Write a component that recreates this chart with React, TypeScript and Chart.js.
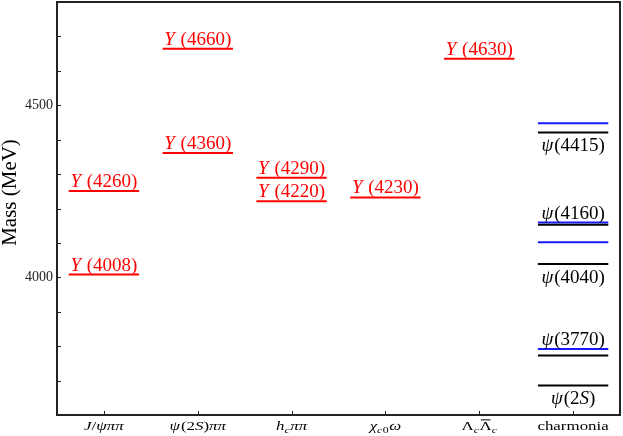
import React, { useEffect, useRef } from 'react';
import { Chart, registerables } from 'chart.js';

Chart.register(...registerables);

// ---------- data ----------
const channels = ['$J/ψππ$', '$ψ(2S)ππ$', '$h_cππ$', '$χ_{c0}ω$', '$Λ_c\u039B\u0304_c$', 'charmonia'];
const massTicks = [4000, 4500];
const yAxisTitle = 'Mass (MeV)';

const yStateNames = ['$Y(4008)$', '$Y(4260)$', '$Y(4360)$', '$Y(4660)$', '$Y(4220)$', '$Y(4290)$', '$Y(4230)$', '$Y(4630)$'];
const yStateMasses = [4008, 4251, 4361, 4664, 4221, 4289, 4232, 4635];
const yStateChannel = [0, 0, 1, 1, 2, 2, 3, 4];

const psiNames = ['$ψ(2S)$', '$ψ(3770)$', '$ψ(4040)$', '$ψ(4160)$', '$ψ(4415)$'];
const psiMasses = [3686, 3773, 4039, 4153, 4421];
const modelMasses = [3792, 4102, 4159, 4448];

// ---------- styles ----------
const FONT = '"Liberation Serif", "Times New Roman", serif';
const RED = 'rgb(255,0,0)';
const BLUE = 'rgb(25,25,255)';
const BLACK = '#000';
const FRAME = '#222';
const HALF = 0.375;
const CHARMONIA = channels.length - 1;
const MACRON = '\u0304';

type Seg = { t: string; it: boolean; sub: boolean };

function parse(label: string): Seg[] {
  const math = label.length > 1 && label[0] === '$' && label[label.length - 1] === '$';
  const s = Array.from(math ? label.slice(1, -1) : label);
  const out: Seg[] = [];
  const push = (ch: string, sub: boolean) => {
    if (/[\u0300-\u036f]/.test(ch) && out.length) {
      out[out.length - 1].t += ch;
      return;
    }
    const it = math && /[A-Za-z\u03b1-\u03c9]/.test(ch);
    const last = out[out.length - 1];
    if (last && last.it === it && last.sub === sub) last.t += ch;
    else out.push({ t: ch, it, sub });
  };
  let i = 0;
  while (i < s.length) {
    const ch = s[i];
    if (math && ch === '_') {
      i++;
      if (s[i] === '{') {
        i++;
        while (i < s.length && s[i] !== '}') {
          push(s[i], true);
          i++;
        }
        i++;
      } else {
        push(s[i], true);
        i++;
      }
    } else {
      push(ch, false);
      i++;
    }
  }
  return out;
}

function drawRich(
  ctx: CanvasRenderingContext2D,
  label: string,
  cx: number,
  baseline: number,
  size: number,
  color: string,
  sx = 1,
  italicGap = 0.1
) {
  const segs = parse(label);
  const items = segs.map((s) => {
    const fs = s.sub ? size * 0.7 : size;
    const font = `${s.it ? 'italic ' : ''}${fs}px ${FONT}`;
    ctx.font = font;
    const bars: { a: number; b: number }[] = [];
    let plain = '';
    for (const ch of Array.from(s.t)) {
      if (ch === MACRON && plain.length) {
        const prev = Array.from(plain);
        const lastCh = prev[prev.length - 1];
        const before = prev.slice(0, -1).join('');
        const a = ctx.measureText(before).width;
        const b = a + ctx.measureText(lastCh).width;
        bars.push({ a, b });
      } else plain += ch;
    }
    const w = ctx.measureText(plain).width;
    return { ...s, t: plain, font, w, fs, bars, dy: s.sub ? size * 0.22 : 0 };
  });
  let total = 0;
  const xs: number[] = [];
  items.forEach((it, i) => {
    xs.push(total);
    total += it.w;
    const nx = items[i + 1];
    if (nx && it.it && !nx.it && !nx.sub && /^[(]/.test(nx.t)) total += size * italicGap;
    if (nx && it.sub) total += size * 0.03;
  });
  ctx.save();
  ctx.translate(cx, baseline);
  ctx.scale(sx, 1);
  const x0 = -total / 2;
  ctx.fillStyle = color;
  ctx.strokeStyle = color;
  ctx.textAlign = 'left';
  ctx.textBaseline = 'alphabetic';
  items.forEach((it, i) => {
    ctx.font = it.font;
    const x = x0 + xs[i];
    ctx.fillText(it.t, x, it.dy);
    it.bars.forEach((bar) => {
      const yb = it.dy - it.fs * 0.78;
      ctx.lineWidth = 1;
      ctx.beginPath();
      ctx.moveTo(x + bar.a + 1, yb);
      ctx.lineTo(x + bar.b - 1, yb);
      ctx.stroke();
    });
  });
  ctx.restore();
}

const seg = (ch: number, m: number, color: string) => ({
  data: [
    { x: ch + 1 - HALF, y: m },
    { x: ch + 1 + HALF, y: m },
  ],
  borderColor: color,
  backgroundColor: color,
  borderWidth: 2,
  pointRadius: 0,
  showLine: true,
  fill: false,
});

const labelsPlugin = {
  id: 'labelsPlugin',
  afterDatasetsDraw(chart: any) {
    const ctx: CanvasRenderingContext2D = chart.ctx;
    const { left, right, top, bottom } = chart.chartArea;
    const xs = chart.scales.x;
    const ys = chart.scales.y;
    ctx.save();

    // exotic state labels
    yStateNames.forEach((n, i) => {
      const x = xs.getPixelForValue(yStateChannel[i] + 1);
      const y = ys.getPixelForValue(yStateMasses[i]);
      drawRich(ctx, n, x, y - 4, 19, RED, 1, 0.3);
    });

    // charmonium labels
    psiNames.forEach((n, i) => {
      const m = psiMasses[i];
      const x = xs.getPixelForValue(CHARMONIA + 1);
      const near = modelMasses.find((mm) => mm - m >= 0 && mm - m <= 20);
      if (near !== undefined) drawRich(ctx, n, x, ys.getPixelForValue(near) - 4, 19, BLACK, 1, 0.05);
      else drawRich(ctx, n, x, ys.getPixelForValue(m) + 19, 19, BLACK, 1, 0.05);
    });

    // category labels
    channels.forEach((c, i) => {
      drawRich(ctx, c, xs.getPixelForValue(i + 1), 430, 13, BLACK, 1.3, 0.05);
    });

    // inward ticks
    ctx.strokeStyle = FRAME;
    ctx.lineWidth = 1;
    ctx.beginPath();
    ys.ticks.forEach((t: any) => {
      const y = Math.round(ys.getPixelForValue(t.value)) + 0.5;
      if (y <= top + 2 || y >= bottom - 2) return;
      ctx.moveTo(left, y);
      ctx.lineTo(left + 4, y);
    });
    channels.forEach((_, i) => {
      const x = Math.round(xs.getPixelForValue(i + 1)) + 0.5;
      ctx.moveTo(x, bottom);
      ctx.lineTo(x, bottom - 4);
    });
    ctx.stroke();

    // frame
    ctx.lineWidth = 2;
    ctx.strokeStyle = FRAME;
    ctx.strokeRect(left, top, right - left, bottom - top);

    // y title
    ctx.translate(10, (top + bottom) / 2 - 16);
    ctx.rotate(-Math.PI / 2);
    ctx.font = `21px ${FONT}`;
    ctx.fillStyle = BLACK;
    ctx.textAlign = 'center';
    ctx.textBaseline = 'middle';
    ctx.fillText(yAxisTitle, 0, 0);
    ctx.restore();
  },
};

export default function App() {
  const ref = useRef<HTMLCanvasElement | null>(null);
  useEffect(() => {
    if (!ref.current) return;
    const datasets: any[] = [
      ...yStateMasses.map((m, i) => seg(yStateChannel[i], m, RED)),
      ...psiMasses.map((m) => seg(CHARMONIA, m, BLACK)),
      ...modelMasses.map((m) => seg(CHARMONIA, m, BLUE)),
    ];
    const chart = new Chart(ref.current, {
      type: 'scatter',
      data: { datasets },
      options: {
        animation: false,
        responsive: false,
        maintainAspectRatio: false,
        layout: { padding: { top: 2, right: 3, left: 0, bottom: 0 } },
        plugins: { legend: { display: false }, tooltip: { enabled: false } },
        scales: {
          x: {
            type: 'linear',
            min: 0.5,
            max: channels.length + 0.5,
            grid: { display: false },
            border: { display: false },
            ticks: { display: false },
            afterBuildTicks: (s: any) => {
              s.ticks = channels.map((_, i) => ({ value: i + 1 }));
            },
            afterFit: (s: any) => {
              s.height = 21;
              s.paddingLeft = 0;
              s.paddingRight = 0;
            },
          },
          y: {
            type: 'linear',
            min: 3600,
            max: 4800,
            grid: { display: false, drawTicks: false },
            border: { display: false },
            ticks: {
              stepSize: 100,
              autoSkip: false,
              padding: 4,
              color: '#222',
              font: { family: FONT, size: 14 },
              callback: (v: any) => (massTicks.includes(Number(v)) ? String(v) : ''),
            },
            afterFit: (s: any) => {
              s.width = 57;
              s.paddingTop = 0;
              s.paddingBottom = 0;
            },
          },
        },
      } as any,
      plugins: [labelsPlugin],
    });
    return () => chart.destroy();
  }, []);
  return (
    <div style={{ position: 'absolute', left: 0, top: 0, width: 623, height: 436 }}>
      <canvas ref={ref} width={623} height={436} style={{ width: 623, height: 436, display: 'block' }} />
    </div>
  );
}
